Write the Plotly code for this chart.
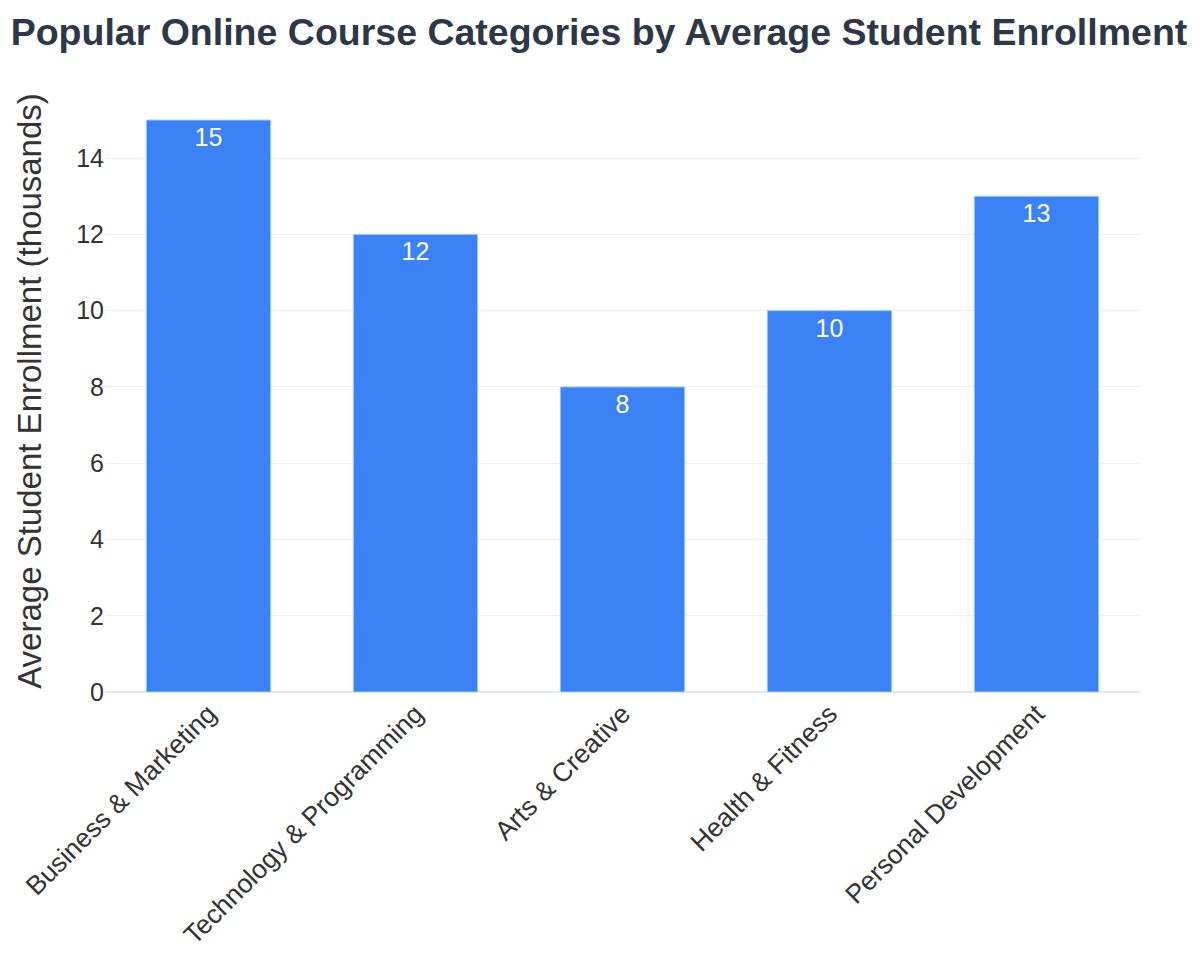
import plotly.graph_objects as go

# Course categories and average enrollment (thousands)
categories = ["Business & Marketing", "Technology & Programming", "Arts & Creative",
              "Health & Fitness", "Personal Development"]
enrollment = [15, 12, 8, 10, 13]

fig = go.Figure(go.Bar(
    x=categories,
    y=enrollment,
    text=enrollment,
    textposition="inside",
    insidetextanchor="end",
    textfont=dict(color="white", size=25),
    marker=dict(color="#3b82f6", line=dict(color="#93c5fd", width=1)),
))

fig.update_layout(
    title=dict(text="<b>Popular Online Course Categories by Average Student Enrollment</b>",
               x=0.4925, xanchor="center", y=0.989, yanchor="top",
               font=dict(family="Liberation Sans, Arial", size=37.5, color="#2d3748")),
    font=dict(family="Liberation Sans, Arial", size=24, color="#333333"),
    plot_bgcolor="white",
    paper_bgcolor="white",
    width=1200, height=975,
    margin=dict(l=97, r=68, t=82, b=291),
    bargap=0.4,
    showlegend=False,
)
fig.update_xaxes(tickangle=-45, tickfont=dict(size=26.5), showgrid=False)
fig.update_yaxes(title=dict(text="Average Student Enrollment (thousands)", font=dict(size=33),
                            standoff=24),
                 tickfont=dict(size=25), gridcolor="#eef0f4", zeroline=True,
                 zerolinecolor="#e2e8f0", zerolinewidth=2, dtick=2)

fig.write_html("out.html")
